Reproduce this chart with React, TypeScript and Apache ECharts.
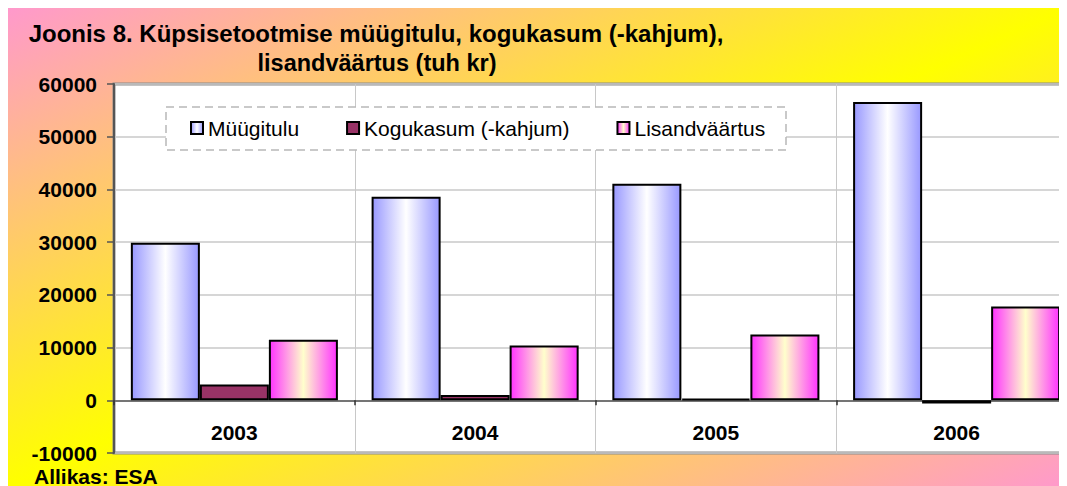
import React, { useEffect, useRef } from "react";
import * as echarts from "echarts";

const years = ["2003", "2004", "2005", "2006"];
const muugitulu = [29900, 38600, 41100, 56600];
const kogukasum = [3000, 1000, 300, -600];
const lisandvaartus = [11500, 10400, 12500, 17800];
const seriesNames = ["Müügitulu", "Kogukasum (-kahjum)", "Lisandväärtus"];
const titleLines = ["Joonis 8. Küpsisetootmise müügitulu, kogukasum (-kahjum),", "lisandväärtus (tuh kr)"];
const sourceText = "Allikas: ESA";

const FONT = "'Liberation Sans', Arial, sans-serif";
const W = 1059;
const H = 478;
const CW = 1080;

export default function App() {
  const ref = useRef<HTMLDivElement>(null);
  useEffect(() => {
    if (!ref.current) return;
    const chart = echarts.init(ref.current, undefined, { renderer: "svg" });
    const f = (W * H * 2) / (W * W + H * H);
    const bgGrad = new echarts.graphic.LinearGradient(0, 0, H * f, W * f, [
      { offset: 0, color: "#ff99cc" },
      { offset: 0.5, color: "#ffff00" },
      { offset: 1, color: "#ff99cc" },
    ], true);
    const blueGrad = new echarts.graphic.LinearGradient(0, 0, 1, 0, [
      { offset: 0, color: "#9999ff" },
      { offset: 0.5, color: "#ffffff" },
      { offset: 1, color: "#9999ff" },
    ]);
    const pinkGrad = new echarts.graphic.LinearGradient(0, 0, 1, 0, [
      { offset: 0, color: "#ff33ff" },
      { offset: 0.5, color: "#ffffcc" },
      { offset: 1, color: "#ff33ff" },
    ]);
    const barBase = {
      type: "bar" as const,
      barGap: "0%",
      barCategoryGap: "14%",
    };
    chart.setOption({
      animation: false,
      graphic: [
        {
          type: "rect",
          z: -10,
          silent: true,
          shape: { x: 0, y: 0, width: CW, height: H },
          style: { fill: bgGrad },
        },
        {
          type: "rect",
          z: 3,
          silent: true,
          shape: { x: 158, y: 99, width: 620, height: 43 },
          style: { fill: "#ffffff", stroke: "#b8b8b8", lineWidth: 1.5, lineDash: [8, 5] },
        },
        {
          type: "text",
          z: 5,
          x: 368,
          y: 25,
          style: {
            text: titleLines[0],
            textAlign: "center",
            textVerticalAlign: "middle",
            font: `bold 24px ${FONT}`,
            fill: "#000",
          },
        },
        {
          type: "text",
          z: 5,
          x: 369,
          y: 55,
          style: {
            text: titleLines[1],
            textAlign: "center",
            textVerticalAlign: "middle",
            font: `bold 23.5px ${FONT}`,
            fill: "#000",
          },
        },
        {
          type: "text",
          z: 5,
          x: 26,
          y: 468,
          style: {
            text: sourceText,
            textAlign: "left",
            textVerticalAlign: "middle",
            font: `bold 21px ${FONT}`,
            lineHeight: 18,
            fill: "#000",
          },
        },
      ],
      legend: {
        z: 4,
        left: 182,
        top: 109,
        padding: 0,
        itemGap: 47,
        itemWidth: 12,
        itemHeight: 12,
        itemStyle: { borderColor: "#000", borderWidth: 2 },
        textStyle: { fontFamily: FONT, fontSize: 21, color: "#000", lineHeight: 22 },
        data: seriesNames,
        icon: "rect",
      },
      grid: {
        left: 106,
        right: CW - 1069,
        top: 76,
        bottom: 33,
        outerBoundsMode: "none",
        containLabel: false,
        show: true,
        backgroundColor: "#ffffff",
        borderColor: "#8a8a8a",
        borderWidth: 3,
      },
      xAxis: {
        type: "category",
        data: years,
        axisLine: { onZero: true, lineStyle: { color: "#555", width: 1.5 } },
        axisTick: { show: true, length: 5, lineStyle: { color: "#333", width: 1.5 } },
        axisLabel: {
          margin: -32,
          fontFamily: FONT,
          fontSize: 21,
          fontWeight: "bold",
          color: "#000",
          lineHeight: 22,
        },
        splitLine: { show: true, lineStyle: { color: "#c8c8c8", width: 1 } },
      },
      yAxis: {
        type: "value",
        min: -10000,
        max: 60000,
        interval: 10000,
        axisLine: { show: true, lineStyle: { color: "#555", width: 2 } },
        axisTick: { show: true, length: 7, lineStyle: { color: "#555", width: 1.5 } },
        axisLabel: {
          margin: 17,
          fontFamily: FONT,
          fontSize: 21,
          fontWeight: "bold",
          color: "#000",
          lineHeight: 18,
          formatter: (v: number) => String(v),
        },
        splitLine: { show: true, lineStyle: { color: "#c8c8c8", width: 1.5 } },
      },
      series: [
        {
          ...barBase,
          name: seriesNames[0],
          data: muugitulu,
          itemStyle: { color: blueGrad, borderColor: "#000", borderWidth: 2 },
        },
        {
          ...barBase,
          name: seriesNames[1],
          data: kogukasum,
          itemStyle: { color: "#993366", borderColor: "#000", borderWidth: 2 },
        },
        {
          ...barBase,
          name: seriesNames[2],
          data: lisandvaartus,
          itemStyle: { color: pinkGrad, borderColor: "#000", borderWidth: 2 },
        },
      ],
    });
    return () => chart.dispose();
  }, []);
  return (
    <div style={{ width: W, height: H, overflow: "hidden" }}>
      <div ref={ref} style={{ width: CW, height: H }} />
    </div>
  );
}
